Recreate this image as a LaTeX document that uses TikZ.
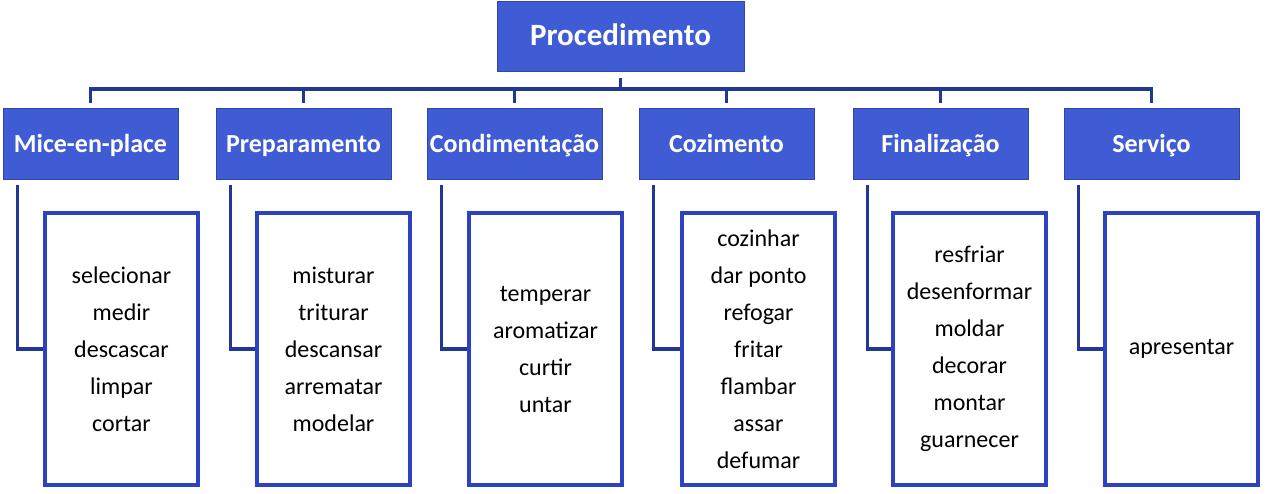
\documentclass[tikz,border=0pt]{standalone}
\usepackage{fontspec}
\setmainfont{Carlito}
\definecolor{boxfill}{RGB}{64,92,212}
\definecolor{boxedge}{RGB}{48,70,175}
\definecolor{connc}{RGB}{34,54,150}
\definecolor{childedge}{RGB}{44,66,192}
\tikzset{
  topbox/.style={draw=boxedge, line width=1pt, fill=boxfill, text=white, font=\bfseries\fontsize{31}{36}\selectfont, minimum width=247pt, minimum height=70pt, inner sep=0pt, text height=20pt, text depth=1pt},
  midbox/.style={draw=boxedge, line width=1pt, fill=boxfill, text=white, font=\bfseries\fontsize{26}{30}\selectfont, minimum width=175pt, minimum height=71pt, inner sep=0pt, text height=18pt, text depth=1pt},
  childbox/.style={draw=childedge, line width=4pt, fill=white, text=black, align=center, font=\fontsize{24}{37}\selectfont, minimum width=153pt, minimum height=272pt, inner sep=0pt},
  conn/.style={draw=connc, line width=3.5pt},
}
\begin{document}
\begin{tikzpicture}[x=1pt,y=-1pt]
\useasboundingbox (0,0) rectangle (1266,493);
\node[topbox] (top) at (620.5,36) {Procedimento};
\coordinate (bus) at (0,89);
\node[midbox] (m1) at (90.5,143.5) {Mice-en-place};
\node[midbox] (m2) at (303.5,143.5) {Preparamento};
\node[midbox] (m3) at (514.5,143.5) {Condimentação};
\node[midbox] (m4) at (726.5,143.5) {Cozimento};
\node[midbox] (m5) at (940.5,143.5) {Finalização};
\node[midbox] (m6) at (1151.5,143.5) {Serviço};
\node[childbox] (c1) at (121.5,349) {selecionar\\medir\\descascar\\limpar\\cortar};
\node[childbox] (c2) at (333.5,349) {misturar\\triturar\\descansar\\arrematar\\modelar};
\node[childbox] (c3) at (545.5,349) {temperar\\aromatizar\\curtir\\untar};
\node[childbox] (c4) at (758.5,349) {cozinhar\\dar ponto\\refogar\\fritar\\flambar\\assar\\defumar};
\node[childbox] (c5) at (969.5,349) {resfriar\\desenformar\\moldar\\decorar\\montar\\guarnecer};
\node[childbox] (c6) at (1181.5,349) {apresentar};
\draw[conn] ([yshift=-6pt]top.south) -- (top.south |- bus);
\draw[conn, line cap=rect] (m1.north |- bus) -- (m6.north |- bus);
\foreach \i in {1,...,6}{
  \draw[conn] (m\i.north |- bus) -- ([yshift=5pt]m\i.north);
  \draw[conn] ([xshift=15pt,yshift=-5pt]m\i.south west) |- (c\i.west);
}
\end{tikzpicture}
\end{document}
